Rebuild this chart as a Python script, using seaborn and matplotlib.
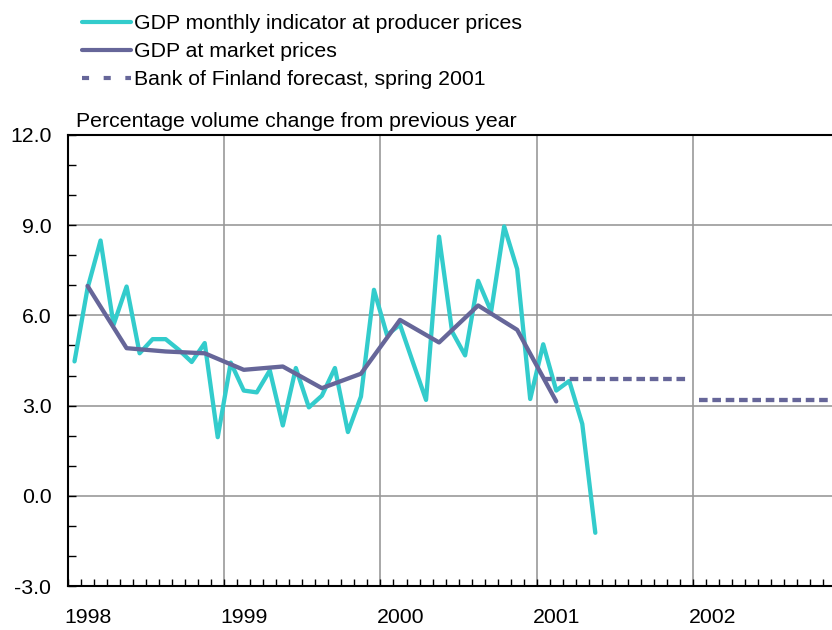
import numpy as np
import pandas as pd
import matplotlib
matplotlib.use("Agg")
import matplotlib.pyplot as plt
import matplotlib.transforms as mtransforms
from matplotlib.lines import Line2D
from matplotlib.ticker import MultipleLocator, FixedLocator
import seaborn as sns

# Monthly GDP indicator, Jan 1998 - May 2001 (% change from previous year)
monthly_values = [
    4.47, 6.90, 8.49, 5.69, 6.96, 4.74, 5.21, 5.21, 4.86, 4.45, 5.08, 1.95,
    4.43, 3.50, 3.44, 4.17, 2.34, 4.25, 2.94, 3.33, 4.25, 2.12, 3.30, 6.85,
    5.35, 5.69, 4.43, 3.19, 8.62, 5.46, 4.67, 7.15, 6.13, 8.96, 7.54, 3.22,
    5.04, 3.50, 3.82, 2.39, -1.23,
]
# Quarterly GDP at market prices, 1998Q1 - 2001Q1
quarterly_values = [6.98, 4.91, 4.80, 4.74, 4.19, 4.30, 3.58, 4.06,
                    5.85, 5.10, 6.33, 5.52, 3.14]
# Bank of Finland forecast, spring 2001
forecast_years = [2001, 2002]
forecast_values = [3.9, 3.2]

year_labels = ["1998", "1999", "2000", "2001", "2002"]
start_year = 1998

label_monthly = "GDP monthly indicator at producer prices"
label_quarterly = "GDP at market prices"
label_forecast = "Bank of Finland forecast, spring 2001"
ylabel_text = "Percentage volume change from previous year"

cyan = "#33CCCC"
purple = "#666699"
fs = 15.3

# decimal-year positions (mid-month / mid-quarter)
monthly = pd.DataFrame({
    "t": start_year + (np.arange(len(monthly_values)) + 0.5) / 12,
    "v": monthly_values,
})
quarterly = pd.DataFrame({
    "t": start_year + (np.arange(len(quarterly_values)) * 3 + 1.5) / 12,
    "v": quarterly_values,
})
forecast = pd.DataFrame({
    "year": np.repeat(forecast_years, 2),
    "t": np.array([[y + 0.5 / 12, y + 11.5 / 12] for y in forecast_years]).ravel(),
    "v": np.repeat(forecast_values, 2),
})

sns.set_theme(style="white")
plt.rcParams["font.family"] = ["Liberation Sans", "DejaVu Sans"]
plt.rcParams["text.color"] = "black"
plt.rcParams["xtick.color"] = "black"
plt.rcParams["ytick.color"] = "black"

fig = plt.figure(figsize=(8.32, 6.30), dpi=100)
ax = fig.add_axes([68 / 832, 44 / 630, 1 - 68 / 832, 451 / 630])

sns.lineplot(data=monthly, x="t", y="v", ax=ax, color=cyan, linewidth=3.1,
             estimator=None, sort=False)
sns.lineplot(data=quarterly, x="t", y="v", ax=ax, color=purple, linewidth=3.1,
             estimator=None, sort=False)
sns.lineplot(data=forecast, x="t", y="v", units="year", ax=ax, color=purple,
             linewidth=3.1, estimator=None, sort=False, linestyle=(0, (2, 1.1)))
for ln in ax.lines[-2:]:
    ln.set_dash_capstyle("butt")

ax.set_xlim(start_year, start_year + 4.89)
ax.set_ylim(-3, 12)
ax.set_xlabel("")
ax.set_ylabel("")

years = [start_year + i for i in range(len(year_labels))]
ax.xaxis.set_major_locator(FixedLocator(years))
ax.set_xticklabels(year_labels)
ax.xaxis.set_minor_locator(MultipleLocator(1 / 12))
ax.yaxis.set_major_locator(MultipleLocator(3))
ax.yaxis.set_minor_locator(MultipleLocator(1))
ax.yaxis.set_major_formatter(matplotlib.ticker.FormatStrFormatter("%.1f"))

ax.grid(True, which="major", color="#999999", linewidth=1.2)
ax.tick_params(axis="x", which="both", direction="in", length=5, width=1,
               color="black", bottom=True, labelsize=fs, pad=16)
ax.tick_params(axis="y", which="both", direction="in", length=6, width=1,
               color="black", left=True, labelsize=fs, pad=12)
offset = mtransforms.ScaledTranslation(-4 / 100, 0, fig.dpi_scale_trans)
for lab in ax.get_xticklabels():
    lab.set_horizontalalignment("left")
    lab.set_transform(lab.get_transform() + offset)

for side in ["left", "bottom", "top"]:
    ax.spines[side].set_visible(True)
    ax.spines[side].set_color("black")
    ax.spines[side].set_linewidth(1.5)
ax.spines["right"].set_visible(False)

ax.text(0.01, 1.008, ylabel_text, transform=ax.transAxes, ha="left",
        va="bottom", fontsize=fs)

handles = [
    Line2D([], [], color=cyan, linewidth=3),
    Line2D([], [], color=purple, linewidth=3),
    Line2D([], [], color=purple, linewidth=3, linestyle=(0, (1.7, 3.5)),
           dash_capstyle="butt"),
]
fig.legend(handles, [label_monthly, label_quarterly, label_forecast],
           loc="upper left", bbox_to_anchor=(82 / 832, 1 - 14 / 630),
           frameon=False, fontsize=fs, handlelength=2.3,
           handletextpad=0.15, labelspacing=0.43, borderpad=0,
           borderaxespad=0)

fig.savefig("out.png", dpi=100)
